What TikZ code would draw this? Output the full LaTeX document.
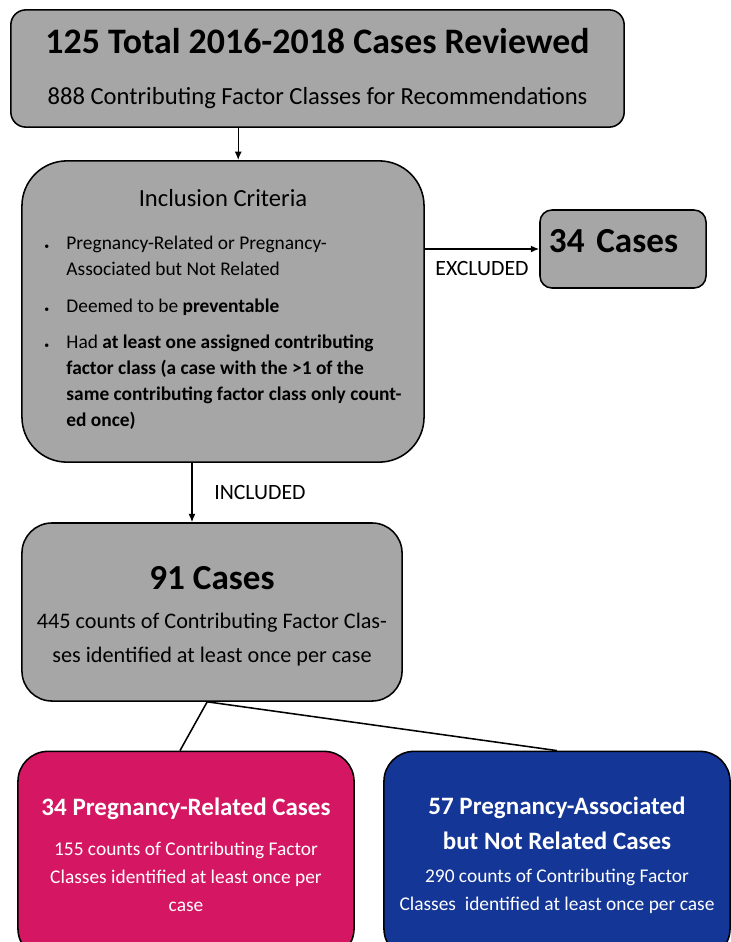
\documentclass[tikz,border=0pt]{standalone}
\usepackage{fontspec}
\setmainfont{Carlito}
\usepackage{tikz}
\usetikzlibrary{arrows.meta}

\definecolor{boxgrey}{HTML}{A6A6A6}
\definecolor{prpink}{HTML}{D51763}
\definecolor{pablue}{HTML}{143696}

\begin{document}
\begin{tikzpicture}[x=0.025cm,y=-0.025cm,
        stage/.style={draw=black,line width=1.1pt,fill=boxgrey,rounded corners=#1,
            inner sep=0pt,align=center},
        stage/.default=0.4cm,
        flow/.style={line width=1pt,-{Latex[length=6pt,width=5pt]}},
        tag/.style={font=\fontsize{15.5}{18}\selectfont}]
        \useasboundingbox (0,0) rectangle (731,942);
        \clip (0,0) rectangle (731,942);

        \node[stage=0.375cm,minimum width=15.33cm,minimum height=2.93cm,
            font=\fontsize{17.5}{36}\selectfont] (total) at (317.5,68.5)
            {{\fontsize{25.5}{29}\selectfont\bfseries 125 Total 2016-2018 Cases Reviewed}\\
             888 Contributing Factor Classes for Recommendations};

        \node[stage=1.125cm,minimum width=10.05cm,minimum height=7.53cm,
            font=\fontsize{13.8}{18.5}\selectfont] (incl) at (223,311.5)
            {\begin{tabular}{@{}p{0.55cm}@{}l@{}}
             \multicolumn{2}{c}{\fontsize{17.5}{20}\selectfont Inclusion Criteria}\\[12pt]
             {\scriptsize\textbullet} & Pregnancy-Related or Pregnancy-\\
             & Associated but Not Related\\[7.5pt]
             {\scriptsize\textbullet} & Deemed to be \textbf{preventable}\\[7.5pt]
             {\scriptsize\textbullet} & Had \textbf{at least one assigned contributing}\\
             & \textbf{factor class (a case with the >1 of the}\\
             & \textbf{same contributing factor class only count-}\\
             & \textbf{ed once)}
             \end{tabular}};

        \node[stage=0.3cm,minimum width=4.15cm,minimum height=1.95cm,
            text width=3.7cm,align=left,text depth=0.4cm,
            font=\fontsize{25}{29}\selectfont\bfseries] (excl) at (623,249) {34 Cases};

        \node[stage=0.75cm,minimum width=9.5cm,minimum height=4.45cm,
            font=\fontsize{15.8}{24.5}\selectfont] (kept) at (212,612)
            {{\fontsize{25}{29}\selectfont\bfseries\rule{0pt}{23pt}91 Cases}\\[3pt]
             445 counts of Contributing Factor Clas-\\
             ses identified at least once per case};

        \node[stage=0.75cm,fill=prpink,text=white,minimum width=8.4cm,minimum height=5.18cm,
            font=\fontsize{13.8}{20}\selectfont] (related) at (186,855)
            {{\fontsize{17.8}{21}\selectfont\bfseries 34 Pregnancy-Related Cases}\\[8pt]
             155 counts of Contributing Factor\\
             Classes identified at least once per\\
             case};

        \node[stage=0.75cm,fill=pablue,text=white,minimum width=8.65cm,minimum height=5.18cm,
            font=\fontsize{13.8}{19.5}\selectfont] (assoc) at (557,855)
            {{\fontsize{17.8}{21}\selectfont\bfseries 57 Pregnancy-Associated}\\[6pt]
             {\fontsize{17.8}{21}\selectfont\bfseries but Not Related Cases}\\[4pt]
             290 counts of Contributing Factor\\
             Classes~ identified at least once per case};

        \coordinate (intop) at ([xshift=0.38cm]incl.north);
        \coordinate (kepttop) at ([xshift=-0.5cm]kept.north);

        \draw[flow] (total.south -| intop) -- (intop);
        \draw[flow] (excl.west -| incl.east) -- (excl.west)
            node[tag,midway,below=5pt] {EXCLUDED};
        \draw[flow] (incl.south -| kepttop) -- (kepttop)
            node[tag,midway,right=12pt] {INCLUDED};
        \draw[line width=1.1pt] ([xshift=-0.12cm]kept.south) -- ([xshift=-0.15cm]related.north);
        \draw[line width=1.1pt] ([xshift=-0.12cm]kept.south) -- (assoc.north);
    \end{tikzpicture}
\end{document}
